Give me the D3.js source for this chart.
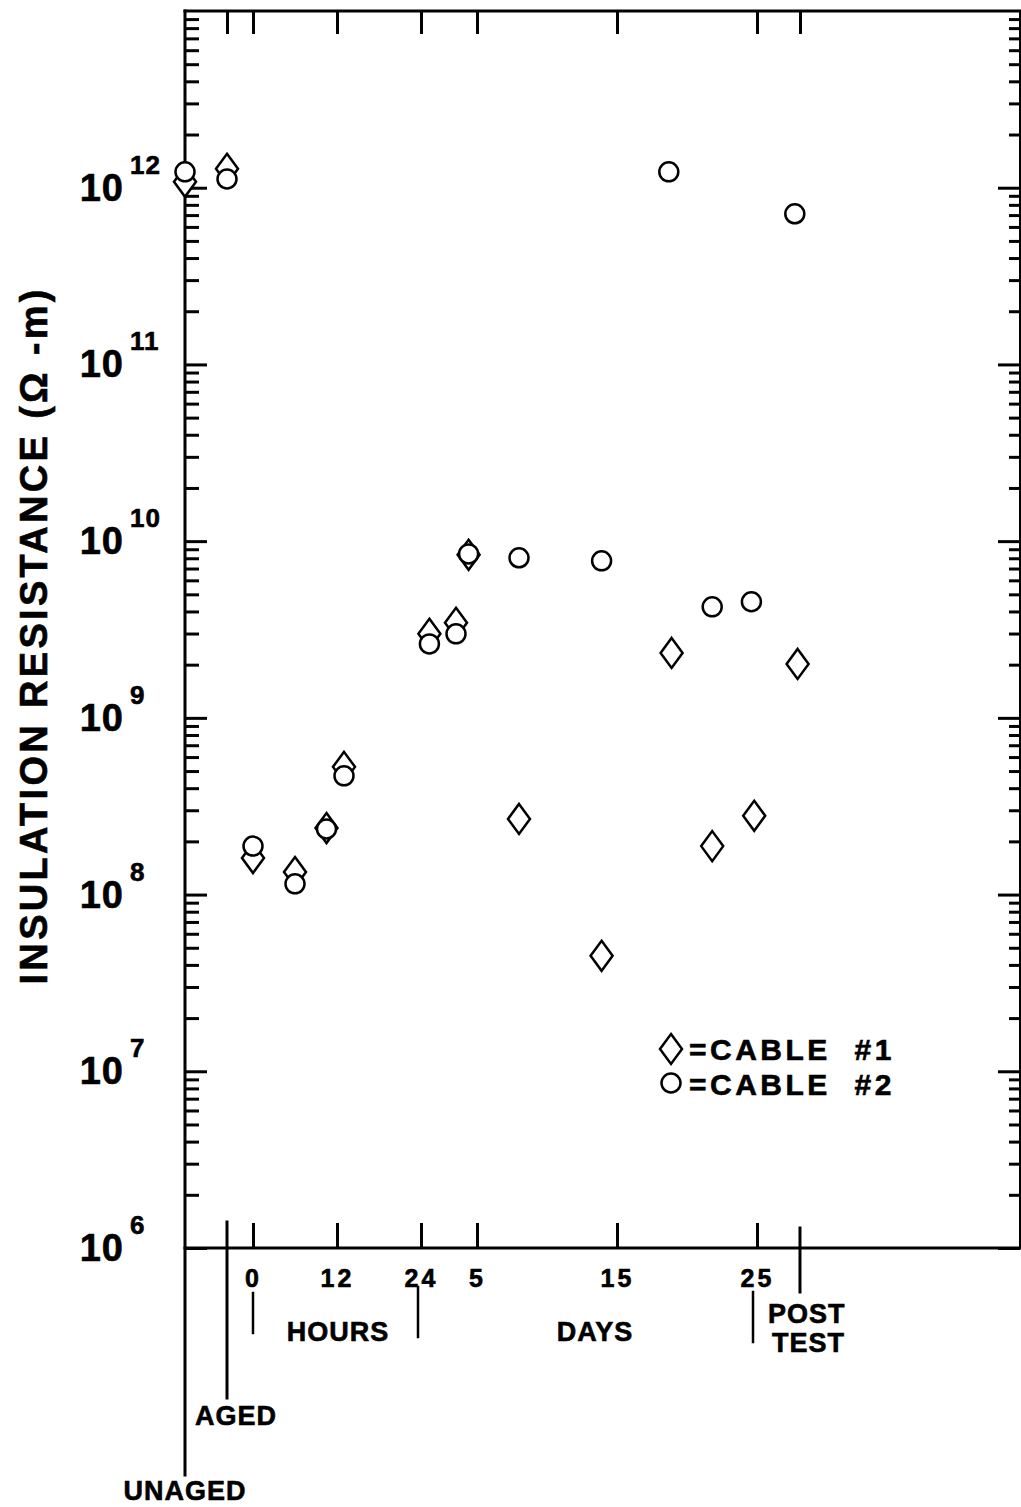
<!DOCTYPE html>
<html><head><meta charset="utf-8">
<script src="https://cdn.jsdelivr.net/npm/d3@7"></script>
<style>
html,body{margin:0;padding:0;background:#fff;}
svg{display:block;}
text{font-family:"Liberation Sans",Arial,Helvetica,sans-serif;font-weight:bold;fill:#000;stroke:#000;stroke-width:0.6px;}
</style></head><body>
<svg id="chart" width="1021" height="1507"></svg>
<script>
// ---------------- data ----------------
const stageLabels = ["UNAGED", "AGED"];
const hourTicks = [0, 12, 24];
const dayTicks = [5, 15, 25];
const postTestDay = 28.07;
const yExponents = [6, 7, 8, 9, 10, 11, 12];
const legendLabels = ["=CABLE  #1", "=CABLE  #2"];

// Cable #1 (diamonds)
const cable1StageValues = [1.08e12, 1.28e12];
const cable1Hours = [0, 6, 10.5, 13];
const cable1HourValues = [1.61e8, 1.34e8, 2.38e8, 5.28e8];
const cable1Days = [1.6, 3.5, 4.4, 8.0, 13.9, 18.9, 21.8, 24.8, 27.9];
const cable1DayValues = [2.99e9, 3.45e9, 8.37e9, 2.68e8, 4.5e7, 2.33e9, 1.88e8, 2.79e8, 2.02e9];

// Cable #2 (circles)
const cable2StageValues = [1.23e12, 1.12e12];
const cable2Hours = [0, 6, 10.5, 13];
const cable2HourValues = [1.88e8, 1.15e8, 2.35e8, 4.70e8];
const cable2Days = [1.6, 3.5, 4.4, 8.0, 13.9, 18.7, 21.8, 24.6, 27.7];
const cable2DayValues = [2.62e9, 2.99e9, 8.47e9, 8.05e9, 7.74e9, 1.23e12, 4.25e9, 4.54e9, 7.12e11];

// ---------------- layout ----------------
const X0 = 185, X1 = 1020, Y0 = 11, Y1 = 1248;
const svg = d3.select("#chart");

const y = d3.scaleLog().domain([1e6, 1e13]).range([Y1, Y0]);
const stageX = d3.scalePoint().domain(stageLabels).range([185, 227]);
const hourX = d3.scaleLinear().domain([0, 24]).range([253, 421]);
const dayX = d3.scaleLinear().domain([1, 28]).range([421, 799]);

function build(stageVals, hrs, hrVals, days, dayVals) {
  const pts = [];
  stageLabels.forEach((s, i) => pts.push({x: stageX(s), v: stageVals[i]}));
  hrs.forEach((h, i) => pts.push({x: hourX(h), v: hrVals[i]}));
  days.forEach((d, i) => pts.push({x: dayX(d), v: dayVals[i]}));
  return pts;
}
const cable1 = build(cable1StageValues, cable1Hours, cable1HourValues, cable1Days, cable1DayValues);
const cable2 = build(cable2StageValues, cable2Hours, cable2HourValues, cable2Days, cable2DayValues);

const LW = 3;
function styleAxis(g) {
  g.select(".domain").remove();
  g.selectAll(".tick line").attr("stroke", "#000").attr("stroke-width", LW);
}

const majors = yExponents.map(e => Math.pow(10, e));
const minors = [];
yExponents.forEach(e => { for (let m = 2; m <= 9; m++) minors.push(m * Math.pow(10, e)); });

// left axis ticks
svg.append("g").attr("transform", `translate(${X0},0)`)
  .call(d3.axisRight(y).tickValues(minors).tickSize(14).tickFormat("")).call(styleAxis);
svg.append("g").attr("transform", `translate(${X0},0)`)
  .call(d3.axisRight(y).tickValues(majors).tickSize(22).tickFormat("")).call(styleAxis);
// right axis ticks
svg.append("g").attr("transform", `translate(${X1},0)`)
  .call(d3.axisLeft(y).tickValues(minors).tickSize(11).tickFormat("")).call(styleAxis);
svg.append("g").attr("transform", `translate(${X1},0)`)
  .call(d3.axisLeft(y).tickValues(majors).tickSize(22).tickFormat("")).call(styleAxis);

// top ticks
[d3.axisBottom(hourX).tickValues(hourTicks),
 d3.axisBottom(dayX).tickValues(dayTicks.concat([postTestDay])),
 d3.axisBottom(stageX).tickValues(["AGED"])].forEach(ax => {
  svg.append("g").attr("transform", `translate(0,${Y0})`)
    .call(ax.tickSize(23).tickFormat("")).call(styleAxis);
});

// bottom ticks with labels
function labelStyle(sel) {
  sel.attr("font-size", 25).attr("letter-spacing", 3)
    .attr("font-family", '"Liberation Sans",Arial,sans-serif').attr("font-weight", "bold")
    .attr("stroke", "#000").attr("stroke-width", 0.6);
}
svg.append("g").attr("transform", `translate(0,${Y1})`)
  .call(d3.axisBottom(hourX).tickValues(hourTicks).tickSizeInner(-25).tickSizeOuter(0).tickPadding(21).tickFormat(d => d))
  .call(styleAxis).selectAll("text").call(labelStyle);
svg.append("g").attr("transform", `translate(0,${Y1})`)
  .call(d3.axisBottom(dayX).tickValues(dayTicks).tickSizeInner(-25).tickSizeOuter(0).tickPadding(21).tickFormat(d => d))
  .call(styleAxis).selectAll("text").call(labelStyle);

// frame and leader lines
const line = (x1, y1, x2, y2, w) => svg.append("line").attr("x1", x1).attr("y1", y1).attr("x2", x2).attr("y2", y2)
  .attr("stroke", "#000").attr("stroke-width", w || LW).attr("stroke-linecap", "square");
line(X0, Y0, X1, Y0);
line(X1, Y0, X1, Y1, 2);
line(X0, Y1, X1, Y1);
line(stageX("UNAGED"), Y0, stageX("UNAGED"), 1475);
line(stageX("AGED"), 1222, stageX("AGED"), 1398);
line(dayX(postTestDay), 1228, dayX(postTestDay), 1292);
line(hourX(0), 1293, hourX(0), 1333, 2.5);
line(hourX(24) - 3, 1287, hourX(24) - 3, 1337, 2.5);
line(dayX(25) - 4, 1292, dayX(25) - 4, 1342, 2.5);

// y-axis labels 10^n
const yl = svg.append("g");
yExponents.forEach(e => {
  const yy = y(Math.pow(10, e));
  yl.append("text").attr("x", 124).attr("y", yy + 13).attr("text-anchor", "end")
    .attr("font-size", 38).attr("letter-spacing", 1).text("10");
  yl.append("text").attr("x", 130).attr("y", yy - 14).attr("text-anchor", "start")
    .attr("font-size", 26).attr("letter-spacing", 1).text(String(e));
});

// y-axis title
svg.append("text").attr("transform", "translate(47,637) rotate(-90)")
  .attr("text-anchor", "middle").attr("font-size", 38)
  .attr("textLength", 695).attr("lengthAdjust", "spacing")
  .text("INSULATION RESISTANCE (\u03A9 -m)");

// x annotations
const ann = (x, yy, t, anchor) => svg.append("text").attr("x", x).attr("y", yy)
  .attr("text-anchor", anchor || "start").attr("font-size", 27).attr("letter-spacing", 1).text(t);
ann(338, 1341, "HOURS", "middle");
ann(595, 1341, "DAYS", "middle");
ann(768, 1323, "POST");
ann(772, 1352, "TEST");
ann(195, 1425, "AGED");
ann(185, 1500, "UNAGED", "middle");

// markers
const diamondPath = "M0,-15L11,0L0,15L-11,0Z";
svg.append("g").selectAll("path").data(cable1).join("path")
  .attr("d", diamondPath)
  .attr("transform", d => `translate(${d.x},${y(d.v)})`)
  .attr("fill", "#fff").attr("stroke", "#000").attr("stroke-width", 2.5);
svg.append("g").selectAll("circle").data(cable2).join("circle")
  .attr("cx", d => d.x).attr("cy", d => y(d.v)).attr("r", 9.5)
  .attr("fill", "#fff").attr("stroke", "#000").attr("stroke-width", 2.5);

// legend
const lg = svg.append("g");
lg.append("path").attr("d", diamondPath).attr("transform", "translate(671,1049)")
  .attr("fill", "#fff").attr("stroke", "#000").attr("stroke-width", 2.5);
lg.append("circle").attr("cx", 671).attr("cy", 1083).attr("r", 9.5)
  .attr("fill", "#fff").attr("stroke", "#000").attr("stroke-width", 2.5);
legendLabels.forEach((t, i) => {
  lg.append("text").attr("x", 689).attr("y", 1060 + i * 35).attr("font-size", 30)
    .attr("letter-spacing", 3.5).style("white-space", "pre").text(t);
});
</script>
</body></html>
